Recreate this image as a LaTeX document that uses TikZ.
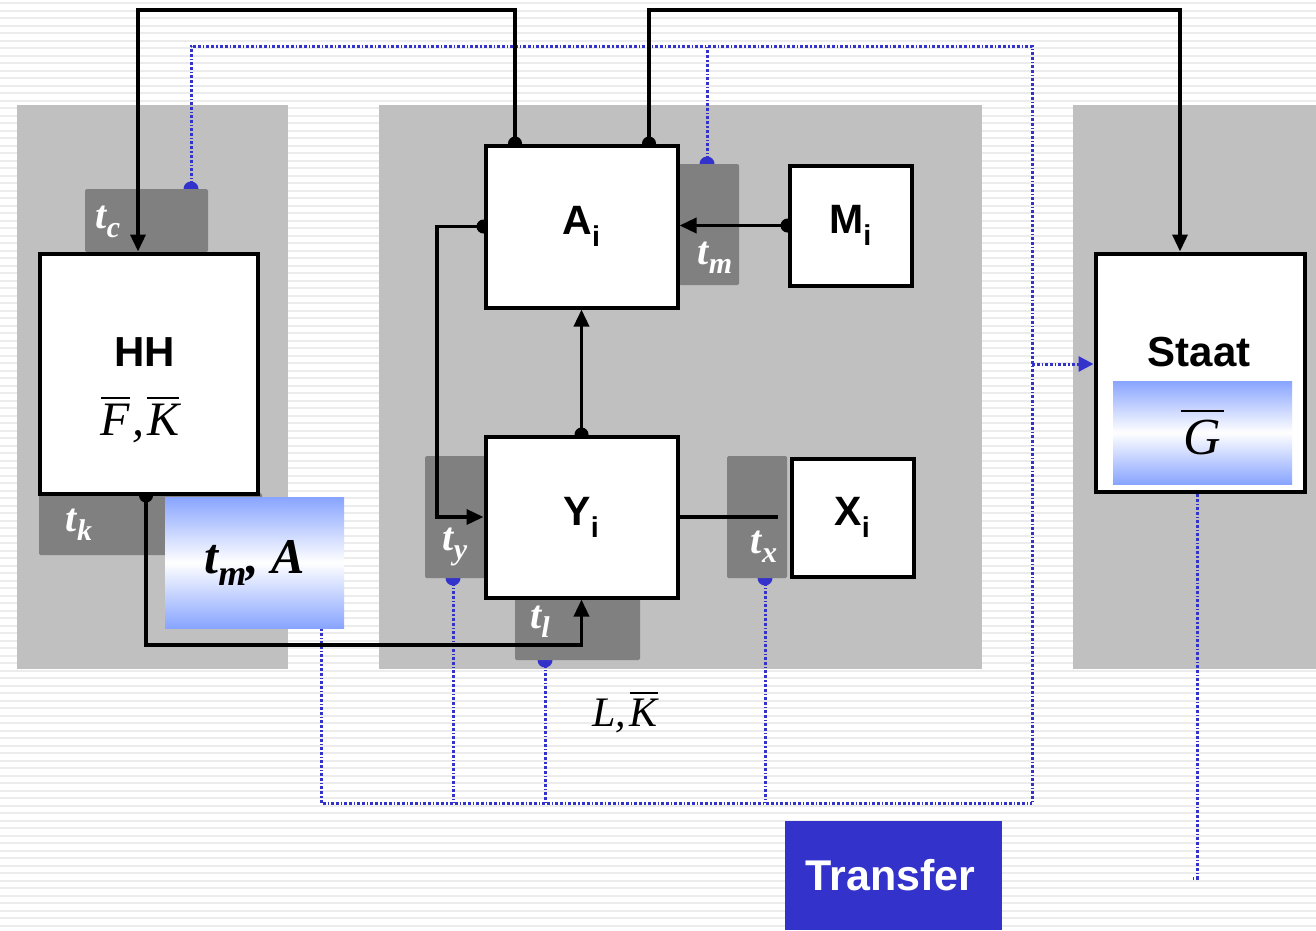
\documentclass[tikz,border=0pt]{standalone}
\usepackage{fontspec}
\setmainfont{Liberation Serif}
\setsansfont{Liberation Sans}
\usetikzlibrary{arrows.meta,calc}
\definecolor{panelgray}{RGB}{192,192,192}
\definecolor{dgray}{RGB}{128,128,128}
\definecolor{stripegray}{RGB}{236,236,236}
\definecolor{blu}{RGB}{51,51,204}
\definecolor{gblue}{RGB}{136,164,255}
\pgfdeclarelayer{bg}
\pgfdeclarelayer{blue}
\pgfdeclarelayer{dark}
\pgfdeclarelayer{bdots}
\pgfdeclarelayer{top}
\pgfsetlayers{bg,blue,dark,bdots,main,top}
% overlined italic letter: #1 letter, #2 gap, #3 rule thickness
\newcommand{\obar}[3]{\vbox{\hrule height #3\kern#2\hbox{\itshape #1}}}
\newcommand{\tsub}[3]{\raisebox{#2}{\fontsize{#3}{#3}\selectfont #1}}
\begin{document}
\begin{tikzpicture}[x=1pt,y=-1pt,
  panelbox/.style={fill=panelgray,inner sep=0pt,outer sep=0pt},
  whitebox/.style={draw=black,line width=4pt,fill=white,inner sep=0pt,
    font=\sffamily\bfseries\fontsize{41}{48}\selectfont},
  dbox/.style={fill=dgray,rounded corners=1.5pt,inner sep=0pt,outer sep=0pt},
  gradbox/.style={top color=gblue,bottom color=gblue,middle color=white,inner sep=0pt,outer sep=0pt},
  tlab/.style={text=white,inner sep=0pt,font=\bfseries\itshape\fontsize{40}{44}\selectfont},
  blk/.style={line width=3.5pt,black},
  arr/.style={-{Triangle[length=17pt,width=15pt]}},
  bline/.style={blu,line width=3pt,dash pattern=on 3pt off 2pt on 3pt off 2pt on 1.2pt off 2pt},
  barr/.style={-{Triangle[length=15pt,width=15pt]}},
]
\useasboundingbox (0,0) rectangle (1316,930);
% background with stripes
\begin{pgfonlayer}{bg}
  \fill[white] (0,0) rectangle (1316,930);
  \foreach \yy in {2,9.5,...,930} \fill[stripegray] (0,\yy) rectangle (1316,\yy+2.2);
  \node[panelbox,minimum width=271pt,minimum height=564pt] (panelL) at (152.5,387) {};
  \node[panelbox,minimum width=603pt,minimum height=564pt] (panelM) at (680.5,387) {};
  \node[panelbox,minimum width=243pt,minimum height=564pt] (panelR) at (1194.5,387) {};
\end{pgfonlayer}
% dark boxes
\begin{pgfonlayer}{dark}
  \node[dbox,minimum width=123pt,minimum height=63pt] (tc) at (146.5,220.5) {};
  \node[dbox,minimum width=223pt,minimum height=62pt] (tk) at (150.5,524) {};
  \node[dbox,minimum width=60pt,minimum height=121pt] (tm) at (709,224.5) {};
  \node[dbox,minimum width=60pt,minimum height=122pt] (ty) at (455,517) {};
  \node[dbox,minimum width=60pt,minimum height=122pt] (tx) at (757,517) {};
  \node[dbox,minimum width=125pt,minimum height=63pt] (tl) at (577.5,628.5) {};
\end{pgfonlayer}
% white boxes
\node[whitebox,minimum width=218pt,minimum height=240pt] (HH) at (148.5,373.5) {};
\node[whitebox,minimum width=192pt,minimum height=162pt] (Ai) at (581.5,226.5) {A\textsubscript{i}};
\node[whitebox,minimum width=122pt,minimum height=120pt] (Mi) at (850.5,225.5) {M\textsubscript{i}};
\node[whitebox,minimum width=192pt,minimum height=161pt] (Yi) at (581.5,517) {Y\textsubscript{i}};
\node[whitebox,minimum width=122pt,minimum height=118pt] (Xi) at (852.5,517.5) {X\textsubscript{i}};
\node[whitebox,minimum width=209pt,minimum height=238pt] (Staat) at (1200,372.5) {};
\node[gradbox,minimum width=179pt,minimum height=103pt] (Gbox) at (1202.5,432.5)
  {\fontsize{52}{56}\selectfont\vbox{\hrule height 2pt\kern9pt\hbox{\kern3pt\itshape G\kern3pt}}};
\node[gradbox,minimum width=179pt,minimum height=131pt] (tmA) at (254.5,562.5)
  {\bfseries\itshape\fontsize{50}{56}\selectfont t\tsub{m}{-12pt}{36}, A};
\node[fill=blu,text=white,inner sep=0pt,minimum width=217pt,minimum height=109pt,
  font=\sffamily\bfseries\fontsize{43}{48}\selectfont] (transfer) at (893.5,875.5) {\raisebox{-5pt}{Transfer\kern6pt}};
% texts
\node[inner sep=0pt,font=\sffamily\bfseries\fontsize{42}{48}\selectfont] (hhlab) at (145,352) {HH};
\node[inner sep=0pt,font=\itshape\fontsize{48}{52}\selectfont] (hhfk) at (140,420)
  {\obar{F}{5pt}{2pt}\kern2pt,\kern3pt\obar{K}{5pt}{2pt}};
\node[inner sep=0pt,font=\sffamily\bfseries\fontsize{42}{48}\selectfont] (stlab) at (1199,352) {Staat};
\node[inner sep=0pt,font=\itshape\fontsize{42}{48}\selectfont] (lk) at (625,712)
  {L,\kern4pt\obar{K}{5pt}{2pt}};
\begin{pgfonlayer}{top}
  \node[tlab] (ltc) at (108,222) {t\tsub{c}{-9pt}{30}};
  \node[tlab] (ltk) at (79,525) {t\tsub{k}{-9pt}{30}};
  \node[tlab] (ltm) at (715,258) {t\tsub{m}{-9pt}{30}};
  \node[tlab] (lty) at (455,547) {t\tsub{y}{-9pt}{30}};
  \node[tlab] (ltx) at (764,547) {t\tsub{x}{-9pt}{30}};
  \node[tlab] (ltl) at (540,622) {t\tsub{l}{-9pt}{30}};
\end{pgfonlayer}
% coordinates
\coordinate (ytop) at (0,10);
\coordinate (xl) at (437,0);
\coordinate (ybot) at (0,645);
\coordinate (xend) at (778,517);
\coordinate (cTR) at (1032,46);
\coordinate (cBR) at (1032,803);
\coordinate (send) at (1197,878);
\coordinate (a1) at ([xshift=-66.5pt]Ai.north);
\coordinate (a2) at ([xshift=67.5pt]Ai.north);
\coordinate (h1) at ([xshift=-10.5pt]HH.north);
\coordinate (h2) at ([xshift=-2.5pt]HH.south);
\coordinate (s1) at ([xshift=-20pt]Staat.north);
\coordinate (ptc) at ([xshift=44.5pt]tc.north);
\coordinate (ptm) at ([xshift=-2pt]tm.north);
\coordinate (pta) at ([xshift=66.5pt]tmA.south);
\coordinate (pty) at ([xshift=-2pt]ty.south);
\coordinate (ptl) at ([xshift=-32.5pt]tl.south);
\coordinate (ptx) at ([xshift=8pt]tx.south);
\coordinate (psw) at ([yshift=8.5pt]Staat.west);
\coordinate (pss) at ([xshift=-3pt]Staat.south);
% blue dotted connectors
\begin{pgfonlayer}{blue}
  \draw[bline] (ptc) |- (cTR) -- (cBR);
  \draw[bline] (ptm) -- (ptm |- cTR);
  \draw[bline] (pta) |- (cBR);
  \draw[bline] (pty) -- (pty |- cBR);
  \draw[bline] (ptl) -- (ptl |- cBR);
  \draw[bline] (ptx) -- (ptx |- cBR);
  \draw[bline,barr] (psw -| cBR) -- (psw);
  \draw[bline] (pss) -- (pss |- send) -- ++(-4,0);
  \foreach \p in {ptc,ptm,pty,ptl,ptx} \fill[blu] (\p) circle (7.5pt);
\end{pgfonlayer}
% black dots
\begin{pgfonlayer}{bdots}
  \foreach \p in {a1,a2,Ai.west,Mi.west,Yi.north,h2} \fill[black] (\p) circle (7pt);
\end{pgfonlayer}
% black connectors
\begin{pgfonlayer}{top}
  \draw[blk,arr] (a1) -- (a1 |- ytop) -| (h1);
  \draw[blk,arr] (a2) -- (a2 |- ytop) -| (s1);
  \draw[blk,arr] (Mi.west) -- (Ai.east |- Mi.west);
  \draw[blk,arr] (Ai.west) -- (Ai.west -| xl) |- (Yi.west);
  \draw[blk,arr] (Yi.north) -- (Ai.south);
  \draw[blk,arr] (h2) -- (h2 |- ybot) -| (Yi.south);
  \draw[blk] (Yi.east) -- (xend);
\end{pgfonlayer}
\end{tikzpicture}
\end{document}
